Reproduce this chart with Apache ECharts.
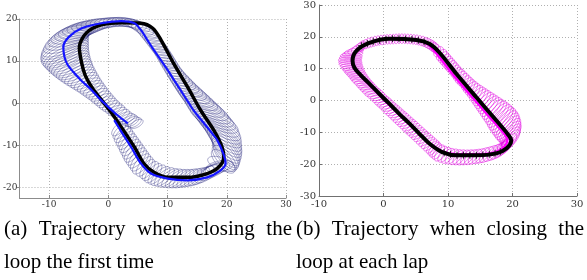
<!DOCTYPE html>
<html>
<head>
<meta charset="utf-8">
<script src="https://cdn.jsdelivr.net/npm/echarts@6/dist/echarts.min.js"></script>
<style>
  html, body { margin: 0; padding: 0; background: #fff; }
  #main { width: 587px; height: 280px; }
</style>
</head>
<body>
<div id="main"></div>
<script>
// axis ranges
const xRangeA = [-15, 30];
const yRangeA = [-22.5, 20];
const xRangeB = [-10, 30];
const yRangeB = [-30, 30];

// (a) ground truth (black) and estimate (blue)
const blackA = [[0.3,-1.8],[-1.4,1.2],[-2.8,3.8],[-3.9,6.6],[-4.5,9.5],[-4.9,13.3],[-3.7,16.7],[-1.2,18.6],[2.2,19.1],[5.5,19.0],[7.5,17.8],[8.9,15.0],[11.0,9.5],[13.4,3.8],[15.6,-1.7],[17.8,-6.4],[19.2,-10.4],[19.5,-12.8],[18.6,-15.2],[16.7,-16.7],[13.4,-17.6],[10.0,-17.6],[7.7,-16.4],[6.0,-14.3],[4.4,-10.4],[2.2,-5.7],[0.3,-1.8]];
const blueA = [[3.3,-4.8],[1.5,-2.8],[0.0,-0.9],[-1.5,1.1],[-2.8,3.1],[-4.5,5.3],[-5.9,7.4],[-6.9,9.2],[-7.4,11.0],[-7.6,13.3],[-6.7,15.7],[-4.5,17.8],[-1.2,19.0],[2.2,19.5],[4.4,19.0],[5.5,17.4],[6.6,15.0],[7.7,12.6],[8.9,10.2],[10.0,7.9],[11.1,5.5],[12.2,3.1],[13.3,0.7],[14.4,-1.7],[15.6,-3.8],[16.7,-5.7],[17.6,-7.3],[18.4,-8.8],[19.4,-11.9],[19.8,-14.3],[18.9,-16.0],[16.7,-17.6],[13.4,-18.3],[10.0,-17.9],[7.2,-16.7],[5.5,-14.3],[3.9,-10.5],[2.4,-7.2],[1.0,-4.0]];
// uncertainty ellipses: [cx, cy, rx (x units), ry (y units), screen angle deg]
const ellipsesA = [
  [4.8,-4.9,1.2,0.8,30],[4.4,-4.6,1.3,0.9,30],[4.0,-4.3,1.3,0.9,30],[3.6,-4.0,1.4,0.9,30],[3.2,-3.6,1.4,0.9,25],[2.7,-3.2,1.4,0.9,25],[2.3,-2.7,1.4,1.0,25],[1.8,-2.2,1.4,1.0,25],[1.35,-1.7,1.5,1.0,25],
  [0.9,-1.2,1.5,1.0,25],[0.45,-0.7,1.55,1.05,25],[0.0,-0.2,1.6,1.1,25],[-0.4,0.35,1.65,1.1,25],[-0.8,0.9,1.7,1.1,25],[-1.2,1.45,1.75,1.15,25],[-1.6,2.0,1.8,1.2,25],[-2.0,2.55,1.9,1.25,25],[-2.4,3.1,2.0,1.3,25],[-2.8,3.65,2.1,1.35,25],[-3.2,4.2,2.2,1.4,25],[-3.6,4.75,2.35,1.45,25],[-4.0,5.3,2.5,1.5,25],[-4.4,5.85,2.65,1.55,25],[-4.8,6.4,2.8,1.6,25],[-5.15,6.95,2.95,1.65,25],[-5.5,7.5,3.1,1.7,25],[-5.8,8.05,3.25,1.75,25],[-6.1,8.6,3.4,1.8,25],[-6.35,9.15,3.55,1.85,25],[-6.6,9.7,3.7,1.9,25],[-6.8,10.25,3.85,1.9,25],[-7.0,10.8,4.0,1.9,25],[-7.15,11.35,4.15,1.95,25],[-7.3,11.9,4.3,2.0,25],[-7.35,12.45,4.35,2.0,25],[-7.4,13.0,4.4,2.0,25],[-7.35,13.55,4.35,2.0,25],[-7.3,14.1,4.3,2.0,25],[-7.1,14.65,4.15,1.95,22],[-6.9,15.2,4.0,1.9,20],[-6.55,15.7,3.8,1.85,17],[-6.2,16.2,3.6,1.8,15],[-5.75,16.6,3.4,1.7,12],[-5.3,17.0,3.2,1.6,10],[-4.75,17.35,3.0,1.55,7],[-4.2,17.7,2.8,1.5,5],[-3.6,18.0,2.6,1.4,2],[-3.0,18.3,2.4,1.3,0],[-2.35,18.55,2.25,1.25,0],
  [-1.7,18.8,2.1,1.2,0],[-1.0,18.95,2.05,1.15,0],[-0.3,19.1,2.0,1.1,0],[0.4,19.2,1.95,1.05,-2],[1.1,19.3,1.9,1.0,-5],[1.8,19.3,1.9,1.0,-8],[2.5,19.3,1.9,1.0,-10],[3.2,19.15,1.95,1.0,-12],[3.9,19.0,2.0,1.0,-15],[4.5,18.7,2.0,1.05,-18],[5.1,18.3,2.0,1.1,-20],[5.75,17.65,2.0,1.15,-22],
  [6.4,17.0,2.0,1.2,-25],[6.8,16.3,2.0,1.2,-25],[7.2,15.6,2.0,1.2,-25],[7.6,14.9,2.0,1.2,-25],[8.0,14.2,2.0,1.2,-25],[8.35,13.5,1.95,1.2,-25],[8.7,12.8,1.9,1.2,-25],[9.05,12.1,1.85,1.2,-25],[9.4,11.4,1.8,1.2,-25],[9.7,10.7,1.8,1.2,-25],[10.0,10.0,1.8,1.2,-25],[10.3,9.3,1.85,1.2,-25],[10.6,8.6,1.9,1.2,-25],[10.95,7.9,1.95,1.25,-25],[11.3,7.2,2.0,1.3,-25],[11.7,6.5,2.15,1.35,-25],[12.1,5.8,2.3,1.4,-25],[12.5,5.1,2.45,1.45,-25],[12.9,4.4,2.6,1.5,-25],[13.35,3.7,2.8,1.55,-25],[13.8,3.0,3.0,1.6,-25],[14.25,2.3,3.2,1.65,-25],[14.7,1.6,3.4,1.7,-25],[15.15,0.9,3.6,1.7,-25],[15.6,0.2,3.8,1.7,-25],[16.05,-0.5,3.95,1.75,-25],[16.5,-1.2,4.1,1.8,-25],[16.85,-1.9,4.2,1.8,-25],[17.2,-2.6,4.3,1.8,-25],[17.55,-3.3,4.35,1.85,-25],[17.9,-4.0,4.4,1.9,-25],[18.2,-4.7,4.4,1.9,-28],[18.5,-5.4,4.4,1.9,-30],[18.7,-6.1,4.35,1.9,-32],[18.9,-6.8,4.3,1.9,-35],[19.1,-7.5,4.2,1.9,-38],[19.3,-8.2,4.1,1.9,-40],[19.45,-8.9,3.95,1.9,-42],[19.6,-9.6,3.8,1.9,-45],[19.7,-10.3,3.6,1.85,-48],[19.8,-11.0,3.4,1.8,-50],[19.8,-11.7,3.2,1.75,-50],[19.8,-12.4,3.0,1.7,-50],[19.6,-13.1,2.8,1.65,-48],[19.4,-13.8,2.6,1.6,-45],[19.1,-14.4,2.45,1.45,-20],
  [18.8,-15.0,2.3,1.3,10],[18.3,-15.5,2.3,1.3,18],[17.8,-16.0,2.3,1.3,25],[17.2,-16.4,2.3,1.3,30],[16.6,-16.8,2.3,1.3,35],[15.95,-17.1,2.25,1.25,38],[15.3,-17.4,2.2,1.2,40],[14.65,-17.55,2.2,1.2,40],[14.0,-17.7,2.2,1.2,40],[13.35,-17.8,2.2,1.2,40],[12.7,-17.9,2.2,1.2,40],[12.05,-17.9,2.2,1.2,40],[11.4,-17.9,2.2,1.2,40],[10.75,-17.8,2.2,1.2,40],[10.1,-17.7,2.2,1.2,40],[9.45,-17.5,2.15,1.2,42],[8.8,-17.3,2.1,1.2,45],[8.2,-16.95,2.05,1.2,48],[7.6,-16.6,2.0,1.2,50],[7.1,-16.1,1.95,1.2,52],[6.6,-15.6,1.9,1.2,55],[6.1,-15.0,2.0,1.25,52],
  [5.6,-14.4,2.1,1.3,50],[5.25,-13.7,2.1,1.3,50],[4.9,-13.0,2.1,1.3,50],[4.55,-12.3,2.1,1.3,50],[4.2,-11.6,2.1,1.3,50],[3.9,-10.9,2.05,1.3,50],[3.6,-10.2,2.0,1.3,50],[3.3,-9.5,1.95,1.25,50],[3.0,-8.8,1.9,1.2,50],[2.7,-8.1,1.85,1.15,48],[2.4,-7.4,1.8,1.1,45],[2.1,-6.7,1.7,1.05,45],[1.8,-6.0,1.6,1.0,45]
];

// (b) ground truth (black), estimate (magenta), '+' samples
const blackB = [[0.9,-1.0],[-0.7,2.2],[-2.2,5.3],[-3.5,7.9],[-4.5,10.3],[-4.8,12.5],[-4.2,15.6],[-2.2,18.1],[0.9,19.4],[5.1,19.0],[7.1,17.8],[8.7,15.0],[11.3,8.4],[14.4,1.0],[17.5,-6.3],[19.2,-10.4],[19.8,-12.5],[19.1,-15.0],[17.5,-16.6],[14.4,-17.2],[11.3,-17.2],[9.1,-16.2],[7.1,-13.5],[5.5,-10.3],[4.0,-7.2],[2.4,-4.1],[0.9,-1.0]];
const magentaB = [[0.8,-1.2],[-2.3,5.1],[-4.6,10.2],[-4.9,12.5],[-4.3,15.5],[-2.3,18.0],[0.9,19.3],[5.0,18.9],[6.9,17.6],[8.2,14.8],[10.6,8.6],[13.6,1.4],[16.7,-5.8],[18.6,-10.2],[19.2,-12.4],[18.6,-14.8],[17.2,-16.3],[14.4,-16.9],[11.3,-16.9],[9.0,-15.9],[7.0,-13.3],[3.9,-7.2],[0.8,-1.2]];
const crossB = [[-3.4,17.2],[-2.5,17.9],[-1.6,18.5],[-0.6,18.9],[0.4,19.2],[1.4,19.4],[2.4,19.4],[3.4,19.3],[4.4,19.2],[5.4,18.9],[6.3,18.4],
  [9.4,-16.4],[10.4,-16.9],[11.4,-17.2],[12.4,-17.2],[13.4,-17.2],[14.4,-17.2],[15.4,-17.1],[16.4,-16.9],[17.3,-16.6],[18.1,-16.1]];
const ellipsesB = [
  [7.6,-14.6,1.3,0.9,45],[7.25,-13.95,1.3,0.9,42],[6.9,-13.3,1.3,0.9,40],[6.55,-12.65,1.3,0.9,37],[6.2,-12.0,1.3,0.9,35],[5.85,-11.35,1.3,0.9,32],[5.5,-10.7,1.3,0.9,30],[5.15,-10.05,1.3,0.9,30],[4.8,-9.4,1.3,0.9,30],[4.45,-8.75,1.3,0.9,30],[4.1,-8.1,1.3,0.9,30],[3.75,-7.45,1.3,0.9,27],[3.4,-6.8,1.3,0.9,25],[3.05,-6.15,1.3,0.9,25],[2.7,-5.5,1.3,0.9,25],[2.35,-4.85,1.3,0.9,22],[2.0,-4.2,1.3,0.9,20],[1.65,-3.55,1.3,0.9,20],[1.3,-2.9,1.3,0.9,20],[0.95,-2.25,1.3,0.9,17],[0.6,-1.6,1.3,0.9,15],[0.25,-0.95,1.3,0.9,15],[-0.1,-0.3,1.3,0.9,15],[-0.45,0.35,1.3,0.9,12],[-0.8,1.0,1.3,0.9,10],[-1.15,1.65,1.35,0.9,10],[-1.5,2.3,1.4,0.9,10],[-1.85,2.95,1.4,0.9,7],[-2.2,3.6,1.4,0.9,5],[-2.5,4.25,1.4,0.9,5],[-2.8,4.9,1.4,0.9,5],[-3.1,5.55,1.45,0.9,2],[-3.4,6.2,1.5,0.9,0],[-3.65,6.85,1.5,0.9,0],[-3.9,7.5,1.5,0.9,0],[-4.15,8.15,1.55,0.9,0],[-4.4,8.8,1.6,0.9,0],[-4.6,9.45,1.65,0.9,0],[-4.8,10.1,1.7,0.9,0],[-4.95,10.75,1.75,0.9,0],[-5.1,11.4,1.8,0.9,0],[-5.15,12.05,1.8,0.9,0],[-5.2,12.7,1.8,0.9,0],[-5.1,13.35,1.75,0.9,0],[-5.0,14.0,1.7,0.9,0],[-4.8,14.65,1.6,0.95,5],[-4.6,15.3,1.5,1.0,10],[-4.25,15.9,1.35,1.05,20],[-3.9,16.5,1.2,1.1,30],
  [-3.45,17.0,0.8,1.25,35],[-3.0,17.5,0.5,1.4,40],[-2.55,17.85,0.45,1.45,32],[-2.1,18.2,0.4,1.5,25],[-1.65,18.45,0.38,1.5,20],[-1.2,18.7,0.35,1.5,15],[-0.75,18.85,0.35,1.5,12],[-0.3,19.0,0.35,1.5,10],[0.15,19.1,0.35,1.5,7],[0.6,19.2,0.35,1.5,5],[1.05,19.25,0.35,1.5,2],[1.5,19.3,0.35,1.5,0],[1.95,19.35,0.35,1.5,0],[2.4,19.4,0.35,1.5,0],[2.85,19.4,0.35,1.5,0],[3.3,19.4,0.35,1.5,0],[3.75,19.35,0.35,1.5,-2],[4.2,19.3,0.35,1.5,-5],[4.65,19.2,0.35,1.5,-7],[5.1,19.1,0.35,1.5,-10],[5.55,18.9,0.38,1.5,-12],[6.0,18.7,0.4,1.5,-15],[6.4,18.4,0.45,1.5,-20],[6.8,18.1,0.5,1.5,-25],[7.15,17.7,0.55,1.5,-30],[7.5,17.3,0.6,1.5,-35],[7.8,16.8,0.7,1.45,-40],[8.1,16.3,0.8,1.4,-45],[8.55,15.3,0.9,1.3,50],
  [9.0,14.3,1.0,1.2,50],[9.3,13.6,1.0,1.2,50],[9.6,12.9,1.0,1.2,50],[9.9,12.2,1.0,1.2,50],[10.2,11.5,1.0,1.2,50],[10.5,10.8,1.0,1.2,50],[10.8,10.1,1.0,1.2,50],[11.1,9.4,1.0,1.2,50],[11.4,8.7,1.0,1.2,50],[11.7,8.0,1.05,1.25,50],[12.0,7.3,1.1,1.3,50],[12.35,6.6,1.1,1.3,50],[12.7,5.9,1.1,1.3,50],[13.0,5.2,1.15,1.3,50],[13.3,4.5,1.2,1.3,50],[13.65,3.8,1.25,1.35,50],[14.0,3.1,1.3,1.4,50],[14.35,2.4,1.4,1.4,50],[14.7,1.7,1.5,1.4,50],[15.05,1.0,1.6,1.45,50],[15.4,0.3,1.7,1.5,50],[15.75,-0.4,1.8,1.5,50],[16.1,-1.1,1.9,1.5,50],[16.45,-1.8,2.0,1.55,50],[16.8,-2.5,2.1,1.6,50],[17.15,-3.2,2.2,1.6,50],[17.5,-3.9,2.3,1.6,50],[17.8,-4.6,2.4,1.65,50],[18.1,-5.3,2.5,1.7,50],[18.4,-6.0,2.55,1.7,50],[18.7,-6.7,2.6,1.7,50],[18.95,-7.4,2.6,1.7,50],[19.2,-8.1,2.6,1.7,50],[19.4,-8.8,2.5,1.7,50],[19.6,-9.5,2.4,1.7,50],[19.7,-10.2,2.3,1.65,50],[19.8,-10.9,2.2,1.6,50],[19.8,-11.6,2.05,1.55,50],[19.8,-12.3,1.9,1.5,50],[19.4,-13.25,1.75,1.45,50],
  [19.0,-14.2,1.6,1.4,50],[18.6,-14.8,1.6,1.4,50],[18.2,-15.4,1.6,1.4,50],[17.7,-15.85,1.55,1.4,50],[17.2,-16.3,1.5,1.4,50],[16.6,-16.65,1.5,1.4,50],[16.0,-17.0,1.5,1.4,50],[15.4,-17.25,1.45,1.4,50],[14.8,-17.5,1.4,1.4,50],[14.2,-17.65,1.4,1.4,50],[13.6,-17.8,1.4,1.4,50],[13.0,-17.85,1.4,1.4,50],[12.4,-17.9,1.4,1.4,50],[11.8,-17.85,1.4,1.4,50],[11.2,-17.8,1.4,1.4,50],[10.6,-17.6,1.4,1.4,50],[10.0,-17.4,1.4,1.4,50],[9.45,-17.05,1.4,1.35,50],[8.9,-16.7,1.4,1.3,50],[8.5,-16.2,1.35,1.15,50],[8.1,-15.7,1.3,1.0,50],[7.85,-15.15,1.3,0.95,48]
];

const captionA = ['(a) Trajectory when closing the', 'loop the first time'];
const captionB = ['(b) Trajectory when closing the', 'loop at each lap'];

const captionFont = '21px "Liberation Serif"';
const ctx = document.createElement('canvas').getContext('2d');
ctx.font = captionFont;

// 第一行两端对齐, 第二行左对齐
function captionTexts(lines, left, width) {
  const out = [];
  const words = lines[0].split(' ');
  const widths = words.map(w => ctx.measureText(w).width);
  const used = widths.reduce((s, w) => s + w, 0);
  const gap = (width - used) / (words.length - 1);
  let x = left;
  words.forEach((w, i) => {
    out.push({ type: 'text', style: { text: w, x: x, y: 229, font: captionFont, fill: '#000', verticalAlign: 'middle' } });
    x += widths[i] + gap;
  });
  out.push({ type: 'text', style: { text: lines[1], x: left, y: 262, font: captionFont, fill: '#000', verticalAlign: 'middle' } });
  return out;
}

// 椭圆: 中心和半轴走坐标轴换算
function ellipseRender(color, lw) {
  return function (params, api) {
    const c = api.coord([api.value(0), api.value(1)]);
    const s = api.size([api.value(2), api.value(3)]);
    const a = api.value(4) * Math.PI / 180;
    const pts = [];
    for (let k = 0; k < 40; k++) {
      const t = k / 40 * Math.PI * 2;
      const ex = s[0] * Math.cos(t), ey = s[1] * Math.sin(t);
      pts.push([c[0] + ex * Math.cos(a) - ey * Math.sin(a), c[1] - (ex * Math.sin(a) + ey * Math.cos(a))]);
    }
    return { type: 'polygon', shape: { points: pts }, style: { fill: 'none', stroke: color, lineWidth: lw } };
  };
}

function axisStyle(range, gridIndex, opts) {
  return {
    type: 'value', gridIndex: gridIndex, min: range[0], max: range[1],
    minInterval: 10, maxInterval: 10,
    axisLine: { show: true, onZero: false, lineStyle: { color: opts.line, width: 1 } },
    axisTick: { show: true, inside: opts.tickInside, length: 3, lineStyle: { color: opts.line } },
    axisLabel: { showMinLabel: opts.showMin, fontFamily: 'DejaVu Serif', fontSize: opts.font, color: '#333', margin: opts.margin },
    splitLine: { show: true, lineStyle: { type: [1, 2], color: '#b0b0b0', width: 1 } }
  };
}

let myChart = echarts.init(document.getElementById('main'));
let option = {
  animation: false,
  grid: [
    { left: 19, top: 19, width: 267, height: 179 },
    { left: 319, top: 5, width: 258, height: 191 }
  ],
  xAxis: [
    axisStyle(xRangeA, 0, { line: '#8c8c8c', tickInside: true, font: 9, margin: 2, showMin: false }),
    axisStyle(xRangeB, 1, { line: '#707070', tickInside: true, font: 10, margin: 3, showMin: true })
  ],
  yAxis: [
    axisStyle(yRangeA, 0, { line: '#8c8c8c', tickInside: false, font: 9, margin: 2, showMin: false }),
    axisStyle(yRangeB, 1, { line: '#707070', tickInside: true, font: 10, margin: 3, showMin: true })
  ],
  series: [
    { type: 'custom', xAxisIndex: 0, yAxisIndex: 0, data: ellipsesA, silent: true, z: 1,
      encode: { x: 0, y: 1 }, renderItem: ellipseRender('rgba(30,30,120,0.6)', 0.6) },
    { type: 'line', xAxisIndex: 0, yAxisIndex: 0, data: blackA, showSymbol: false, smooth: 0.3, z: 2,
      lineStyle: { color: '#000', width: 3.5 } },
    { type: 'line', xAxisIndex: 0, yAxisIndex: 0, data: blueA, showSymbol: false, smooth: 0.3, z: 3,
      lineStyle: { color: '#1414ff', width: 2.2 } },
    { type: 'custom', xAxisIndex: 1, yAxisIndex: 1, data: ellipsesB, silent: true, z: 1,
      encode: { x: 0, y: 1 }, renderItem: ellipseRender('rgba(225,0,225,0.75)', 0.7) },
    { type: 'line', xAxisIndex: 1, yAxisIndex: 1, data: magentaB, showSymbol: false, smooth: 0.3, z: 2,
      lineStyle: { color: '#ff00ff', width: 2.4 } },
    { type: 'line', xAxisIndex: 1, yAxisIndex: 1, data: blackB, showSymbol: false, smooth: 0.3, z: 3,
      lineStyle: { color: '#000', width: 4 } },
    { type: 'scatter', xAxisIndex: 1, yAxisIndex: 1, data: crossB, z: 4, symbol: 'path://M5,0L5,10M0,5L10,5',
      symbolSize: 7, itemStyle: { color: 'none', borderColor: '#000', borderWidth: 1 } }
  ],
  graphic: captionTexts(captionA, 4, 288).concat(captionTexts(captionB, 296, 288))
};
myChart.setOption(option);
window.addEventListener('resize', function () {
  myChart.resize();
});
</script>
</body>
</html>
